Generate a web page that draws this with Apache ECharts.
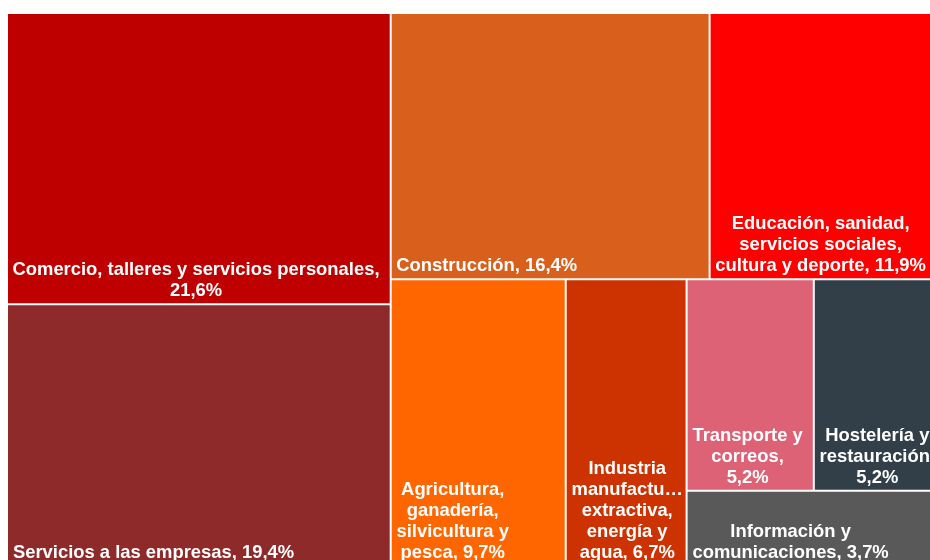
<!DOCTYPE html>
<html>
<head>
<meta charset="utf-8">
<script src="https://cdn.jsdelivr.net/npm/echarts@6/dist/echarts.min.js"></script>
<style>
  html, body { margin: 0; padding: 0; background: #ffffff; }
  #chart { width: 930px; height: 560px; }
</style>
</head>
<body>
<div id="chart"></div>
<script>
const categories = [
  "Comercio, talleres y servicios personales",
  "Servicios a las empresas",
  "Construcción",
  "Educación, sanidad, servicios sociales, cultura y deporte",
  "Agricultura, ganadería, silvicultura y pesca",
  "Industria manufacturera, extractiva, energía y agua",
  "Transporte y correos",
  "Hostelería y restauración",
  "Información y comunicaciones"
];
const shares = [21.6, 19.4, 16.4, 11.9, 9.7, 6.7, 5.2, 5.2, 3.7];
const labelLines = [
  ["Comercio, talleres y servicios personales,", "21,6%"],
  ["Servicios a las empresas, 19,4%"],
  ["Construcción, 16,4%"],
  ["Educación, sanidad,", "servicios sociales,", "cultura y deporte, 11,9%"],
  ["Agricultura,", "ganadería,", "silvicultura y", "pesca, 9,7%"],
  ["Industria", "manufactu…", "extractiva,", "energía y", "agua, 6,7%"],
  ["Transporte y", "correos,", "5,2%"],
  ["Hostelería y", "restauración,", "5,2%"],
  ["Información y", "comunicaciones, 3,7%"]
];
const colors = ["#BE0000", "#8E2A2A", "#D9601C", "#FF0000", "#FF6600", "#CC3300", "#DE6275", "#333F48", "#595959"];

const FONT_FAMILY = '"Liberation Sans", Arial, sans-serif';
const FONT_SIZE = 18.4;
const LINE_H = 21;
const PAD_LEFT = 4;
const PAD_BOTTOM = 1.5;

const linesByName = {};
categories.forEach((c, i) => { linesByName[c] = labelLines[i]; });

const measureCtx = document.createElement('canvas').getContext('2d');
measureCtx.font = 'bold ' + FONT_SIZE + 'px ' + FONT_FAMILY;
function blockWidth(lines) {
  let w = 0;
  lines.forEach(l => { w = Math.max(w, measureCtx.measureText(l).width); });
  return Math.ceil(w) + 1;
}

function buildData(paddings) {
  return categories.map((name, i) => {
    const item = {
      name: name,
      value: shares[i],
      itemStyle: { color: colors[i] }
    };
    if (paddings && paddings[name]) {
      item.label = { padding: paddings[name] };
    }
    return item;
  });
}

const chart = echarts.init(document.getElementById('chart'), null, { renderer: 'canvas' });

const baseOption = {
  animation: false,
  tooltip: { show: false },
  series: [{
    type: 'treemap',
    left: 7,
    top: 13,
    width: 934,
    height: 553,
    squareRatio: 0.84,
    sort: false,
    roam: false,
    nodeClick: false,
    silent: true,
    breadcrumb: { show: false },
    levels: [
      { itemStyle: { borderWidth: 0, gapWidth: 0 } },
      { itemStyle: { borderWidth: 1, borderColor: 'rgba(255,255,255,0.85)', gapWidth: 0 } }
    ],
    label: {
      show: true,
      position: 'insideTopLeft',
      distance: 0,
      padding: [0, 0, PAD_BOTTOM, PAD_LEFT],
      overflow: 'none',
      color: '#ffffff',
      fontSize: FONT_SIZE,
      fontWeight: 'bold',
      fontFamily: FONT_FAMILY,
      lineHeight: LINE_H,
      formatter: function (p) {
        const lines = linesByName[p.name] || [p.name];
        return lines.map(l => '{c|' + l + '}').join('\n');
      },
      rich: {
        c: {
          align: 'center',
          color: '#ffffff',
          fontSize: FONT_SIZE,
          fontWeight: 'bold',
          fontFamily: FONT_FAMILY,
          lineHeight: LINE_H
        }
      }
    },
    emphasis: { disabled: true },
    data: buildData(null)
  }]
};

chart.setOption(baseOption);

// Second pass: place each label block at the bottom-left of its cell,
// using the cell sizes computed by the treemap layout.
const seriesModel = chart.getModel().getSeriesByIndex(0);
const tree = seriesModel.getData().tree;
const paddings = {};
tree.root.children.forEach(node => {
  const lay = node.getLayout();
  if (!lay) return;
  const bw = lay.borderWidth || 0;
  const cw = lay.width - 2 * bw;
  const ch = lay.height - 2 * bw;
  const lines = linesByName[node.name] || [node.name];
  const bWidth = blockWidth(lines);
  const textH = lines.length * LINE_H;
  const padTop = Math.max(ch - PAD_BOTTOM - textH, 0);
  const padRight = Math.max(cw - PAD_LEFT - bWidth, 0);
  paddings[node.name] = [padTop, padRight, Math.max(PAD_BOTTOM - 1, 0), PAD_LEFT];
});

chart.setOption({ series: [{ data: buildData(paddings) }] });
</script>
</body>
</html>
